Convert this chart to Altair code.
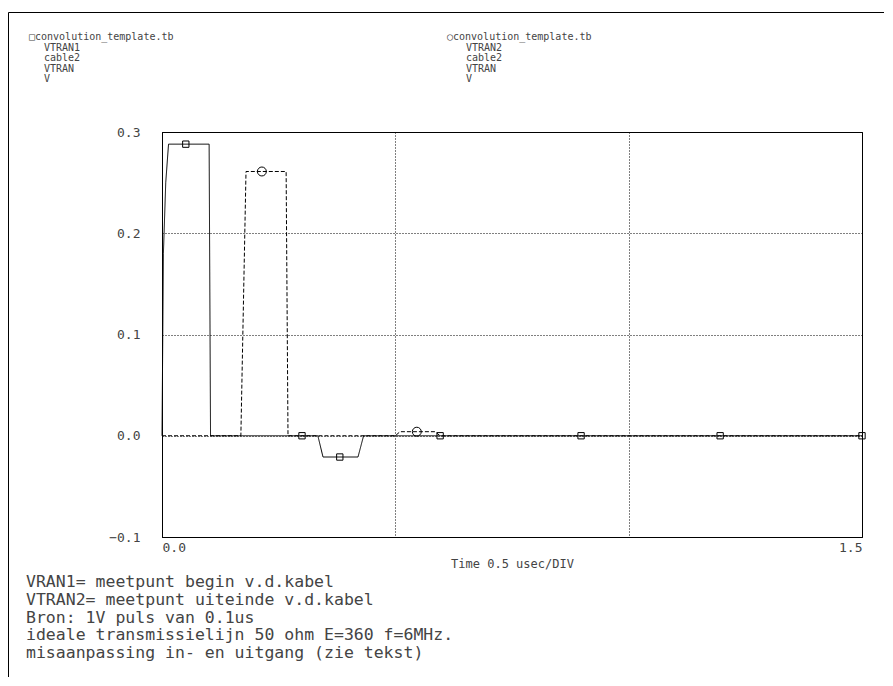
import altair as alt
import pandas as pd

# ---- data (time in usec, voltage in V) ----
vtran1_t = [0.0, 0.003, 0.008, 0.014, 0.101, 0.104, 0.334, 0.345, 0.420, 0.432, 1.5]
vtran1_v = [0.0, 0.180, 0.250, 0.288, 0.288, 0.0, 0.0, -0.021, -0.021, 0.0, 0.0]
vtran2_t = [0.0, 0.169, 0.180, 0.266, 0.270, 0.500, 0.510, 0.585, 0.596, 1.5]
vtran2_v = [0.0, 0.0, 0.261, 0.261, 0.0, 0.0, 0.004, 0.004, 0.0, 0.0]

mark1_t = [0.051, 0.300, 0.381, 0.596, 0.898, 1.196, 1.5]
mark1_v = [0.288, 0.0, -0.021, 0.0, 0.0, 0.0, 0.0]
mark2_t = [0.214, 0.546]
mark2_v = [0.261, 0.004]

y_ticks = [-0.1, 0.0, 0.1, 0.2, 0.3]
x_ticks = [0.0, 0.5, 1.0, 1.5]
x_title = "Time 0.5 usec/DIV"

legend_left = ["□convolution_template.tb", "VTRAN1", "cable2", "VTRAN", "V"]
legend_right = ["○convolution_template.tb", "VTRAN2", "cable2", "VTRAN", "V"]
notes = [
    "VRAN1= meetpunt begin v.d.kabel",
    "VTRAN2= meetpunt uiteinde v.d.kabel",
    "Bron: 1V puls van 0.1us",
    "ideale transmissielijn 50 ohm E=360 f=6MHz.",
    "misaanpassing in- en uitgang (zie tekst)",
]

# ---- layout ----
OX, OY = 162, 132  # page coords of plot origin
W, H = 700, 405
FONT = "DejaVu Sans Mono"
TXT = "#444444"

rows = []
for i, (t, v) in enumerate(zip(vtran1_t, vtran1_v)):
    rows.append({"series": "VTRAN1", "t": t, "v": v, "i": i})
for i, (t, v) in enumerate(zip(vtran2_t, vtran2_v)):
    rows.append({"series": "VTRAN2", "t": t, "v": v, "i": i})
df_lines = pd.DataFrame(rows)
df_m1 = pd.DataFrame({"t": mark1_t, "v": mark1_v})
df_m2 = pd.DataFrame({"t": mark2_t, "v": mark2_v})

xscale = alt.Scale(domain=[0, 1.5], nice=False, zero=False)
yscale = alt.Scale(domain=[-0.1, 0.3], nice=False, zero=False)

xaxis = alt.Axis(
    values=x_ticks, format=".1f", labelFlush=True,
    labelExpr="datum.value == 0 || datum.value == 1.5 ? format(datum.value, '.1f') : ''",
    grid=True, gridDash=[1, 2], gridColor="black", gridOpacity=1,
    ticks=False, domain=True, domainColor="black",
    labelFont=FONT, labelFontSize=13, labelColor=TXT, labelPadding=4,
    title=x_title, titleFont=FONT, titleFontSize=12, titleFontWeight="normal",
    titleColor=TXT, titlePadding=4,
)
yaxis = alt.Axis(
    values=y_ticks, format=".1f",
    grid=True, gridDash=[1, 2], gridColor="black", gridOpacity=1,
    ticks=False, domain=True, domainColor="black",
    labelFont=FONT, labelFontSize=13, labelColor=TXT, labelPadding=22,
    title=None,
)

lines = alt.Chart(df_lines).mark_line(color="black", strokeWidth=1).encode(
    x=alt.X("t:Q", scale=xscale, axis=xaxis),
    y=alt.Y("v:Q", scale=yscale, axis=yaxis),
    detail="series:N",
    order="i:Q",
    strokeDash=alt.StrokeDash(
        "series:N",
        scale=alt.Scale(domain=["VTRAN1", "VTRAN2"], range=[[1, 0], [4, 2]]),
        legend=None,
    ),
)
m1 = alt.Chart(df_m1).mark_point(shape="square", filled=False, color="black",
                                 size=40, strokeWidth=1, opacity=1).encode(
    x=alt.X("t:Q", scale=xscale), y=alt.Y("v:Q", scale=yscale))
m2 = alt.Chart(df_m2).mark_point(shape="circle", filled=False, color="black",
                                 size=80, strokeWidth=1, opacity=1).encode(
    x=alt.X("t:Q", scale=xscale), y=alt.Y("v:Q", scale=yscale))

layers = [lines, m1, m2]


def text_layer(s, X, Y, size, color=TXT):
    return alt.Chart(pd.DataFrame({"s": [s]})).mark_text(
        align="left", baseline="middle", font=FONT, fontSize=size, color=color
    ).encode(text="s:N", x=alt.value(X - OX), y=alt.value(Y - OY))


for i, s in enumerate(legend_left):
    layers.append(text_layer(s, 29 if i == 0 else 44, 37 + i * 10.5, 10))
for i, s in enumerate(legend_right):
    layers.append(text_layer(s, 447 if i == 0 else 466, 37 + i * 10.5, 10))
for i, s in enumerate(notes):
    layers.append(text_layer(s, 26, 582 + i * 17.8, 16.5))

one = pd.DataFrame({"a": [0]})
# outer frame: top and left edges (kept inside the drawing area)
layers.append(alt.Chart(one).mark_rule(color="black", strokeWidth=1).encode(
    x=alt.value(8.5 - OX), x2=alt.value(884 - OX),
    y=alt.value(12.5 - OY), y2=alt.value(12.5 - OY)))
layers.append(alt.Chart(one).mark_rule(color="black", strokeWidth=1).encode(
    x=alt.value(8.5 - OX), x2=alt.value(8.5 - OX),
    y=alt.value(12.5 - OY), y2=alt.value(677 - OY)))

chart = alt.layer(*layers).properties(
    width=W, height=H,
    autosize=alt.AutoSizeParams(type="none"),
    padding={"left": OX - 8, "top": OY - 8, "right": 877 - (OX - 8) - W,
             "bottom": 670 - (OY - 8) - H},
    background="white",
).configure_view(stroke="black", strokeWidth=1)

chart.save("out.html", embed_options={"renderer": "svg", "actions": False})
